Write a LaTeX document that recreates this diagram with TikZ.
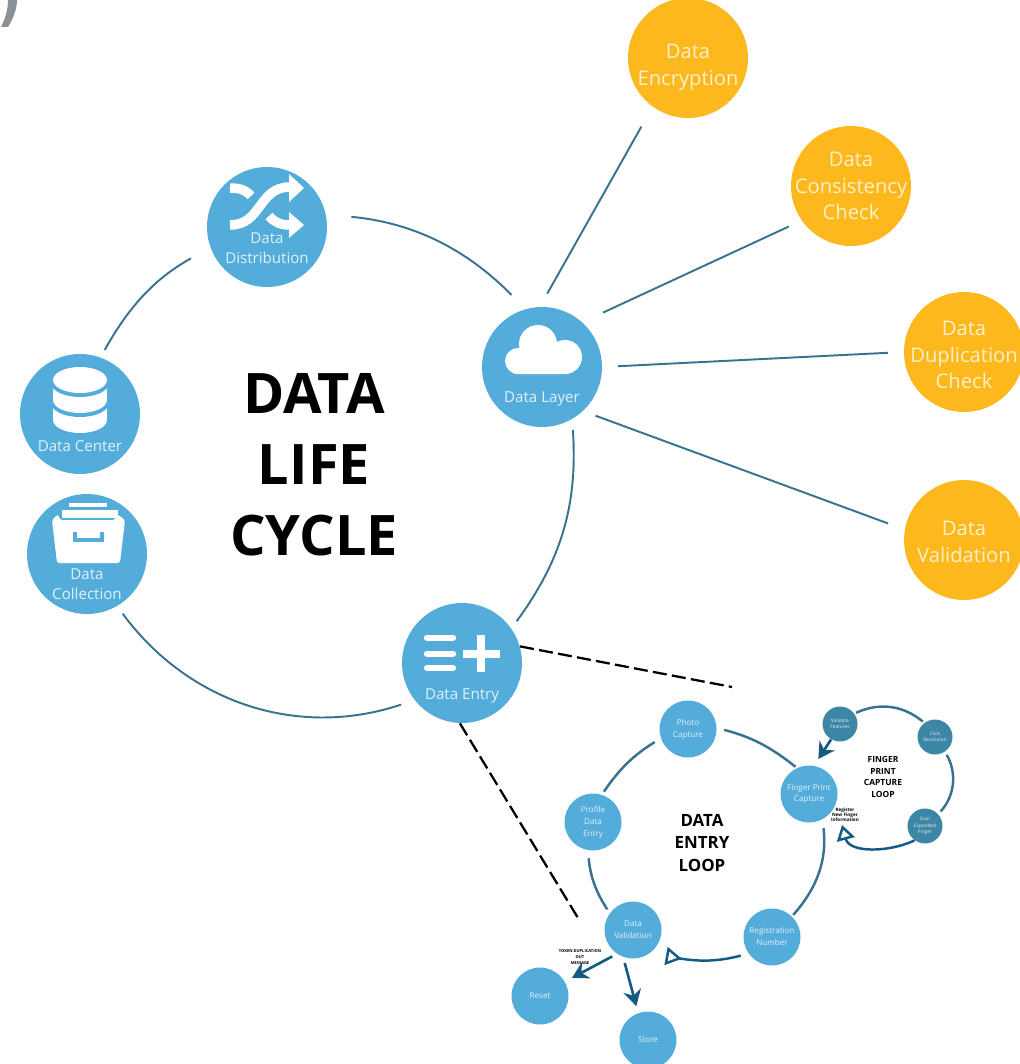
\documentclass[tikz,border=0pt]{standalone}
\usepackage{fontspec}
\setmainfont{Open Sans}
\usetikzlibrary{
    positioning,
    arrows.meta,
    calc
}
\definecolor{nodeblue}{RGB}{84,172,219}
\definecolor{nodeyellow}{RGB}{253,184,30}
\definecolor{nodeteal}{RGB}{62,134,165}
\definecolor{linkteal}{RGB}{55,115,145}
\definecolor{arrowblue}{RGB}{20,90,130}
\definecolor{softwhite}{RGB}{225,241,250}
\definecolor{softcream}{RGB}{255,240,200}
\definecolor{markgray}{RGB}{140,145,150}

\begin{document}
\begin{tikzpicture}[
    x=0.02cm, y=0.02cm,
    bigblue/.style={circle, fill=nodeblue, minimum size=2.4cm, inner sep=0pt},
    bigyellow/.style={circle, fill=nodeyellow, minimum size=2.4cm, inner sep=0pt},
    checklabel/.style={text=softcream, align=center, inner sep=0pt, font=\fontsize{11.5}{15.2}\selectfont},
    smallblue/.style={circle, fill=nodeblue, minimum size=1.14cm, inner sep=0pt, text=softwhite,
        align=center, font=\fontsize{4.6}{6.8}\selectfont},
    smallteal/.style={circle, fill=nodeteal, minimum size=0.7cm, inner sep=0pt, text=softwhite,
        align=center, font=\fontsize{2.7}{3.6}\selectfont},
    iconlabel/.style={text=softwhite, align=center, inner sep=0pt, font=\fontsize{8.6}{11.3}\selectfont},
    looptitle/.style={align=center, inner sep=0pt, font=\bfseries\fontsize{9.6}{12.8}\selectfont},
    tinylabel/.style={align=center, inner sep=0pt, font=\bfseries\fontsize{2.3}{3.3}\selectfont},
    biglink/.style={linkteal, line width=1.1pt},
    looplink/.style={linkteal, line width=1.4pt},
    dashlink/.style={black, line width=1.3pt, dash pattern=on 8pt off 3pt},
    solidarrow/.style={arrowblue, line width=1.5pt, -{Stealth[length=0.32cm,width=0.36cm]}},
    openarrow/.style={arrowblue, line width=1.4pt, -{Triangle[open,length=0.3cm,width=0.36cm]}},
    iconfill/.style={fill=white, draw=none}
]
\useasboundingbox (0,0) rectangle (1020,-1064);

% Stray mark in the corner
\fill[markgray] (8,0) .. controls (8,-10) and (5,-19) .. (1,-27) -- (8,-27) .. controls (13,-19) and (17,-9) .. (17,0) -- cycle;

% Main cycle nodes
\node[bigblue] (dist) at (267,-227) {};
\node[bigblue] (center) at (80,-414) {};
\node[bigblue] (collect) at (87,-554) {};
\node[bigblue] (layer) at (542,-367) {};
\node[bigblue] (entry) at (462,-663) {};

% Outer checks
\node[bigyellow] (encrypt) at (688,-58) {};
\node[bigyellow] (consist) at (851,-186) {};
\node[bigyellow] (duplic) at (964,-352) {};
\node[bigyellow] (valid) at (964,-540) {};
\node[checklabel] (encryptlabel) at (688,-67) {Data\\Encryption};
\node[checklabel] (consistlabel) at (851,-186) {Data\\Consistency\\Check};
\node[checklabel] (dupliclabel) at (964,-355) {Data\\Duplication\\Check};
\node[checklabel] (validlabel) at (964,-542) {Data\\Validation};

% Title
\node[align=center, inner sep=0pt, font=\bfseries\fontsize{31.8}{40.5}\selectfont] (title) at (314,-465) {DATA\\LIFE\\CYCLE};

% Cycle arcs
\draw[biglink, shorten <=4.8pt, shorten >=12.6pt] (center.70) to[bend left=16] (dist.200);
\draw[biglink, shorten <=14.5pt, shorten >=11.3pt] (dist.12) to[bend left=20] (layer.106);
\draw[biglink, shorten <=6pt, shorten >=5pt] (layer.-60) to[bend left=20] (entry.35);
\draw[biglink, shorten <=5.3pt, shorten >=8pt] (collect.-60) to[bend right=36] (entry.218);

% Links to the checks
\draw[biglink, shorten <=8.5pt, shorten >=13pt] (layer.92) -- (encrypt.234);
\draw[biglink, shorten <=13pt, shorten >=8pt] (layer.48) -- (consist.215);
\draw[biglink, shorten <=9pt, shorten >=9pt] (layer.0) -- (duplic.180);
\draw[biglink, shorten <=7.5pt, shorten >=10pt] (layer.-47) -- (valid.170);

% Shuffle icon
\draw[white, line width=5.4pt] (230,-225) .. controls (262,-225) and (258,-187) .. (290,-187);
\fill[white] (289,-174) -- (304,-188) -- (289,-202) -- cycle;
\draw[white, line width=5.4pt] (230,-188) .. controls (240,-188) and (246,-190) .. (251,-196);
\draw[white, line width=5.4pt] (269,-216) .. controls (274,-222) and (280,-225) .. (290,-225);
\fill[white] (289,-212) -- (304,-225) -- (289,-238) -- cycle;
\node[iconlabel] (distlabel) at (267,-248) {Data\\Distribution};

% Database icon
\fill[white] (80,-420) ellipse [x radius=27, y radius=13];
\fill[white] (53,-405) rectangle (107,-420);
\fill[nodeblue] (80,-403) ellipse [x radius=29, y radius=14];
\fill[white] (80,-400) ellipse [x radius=27, y radius=13];
\fill[white] (53,-385) rectangle (107,-400);
\fill[nodeblue] (80,-383) ellipse [x radius=29, y radius=14];
\fill[white] (80,-380) ellipse [x radius=27, y radius=13];
\node[iconlabel] (centerlabel) at (80,-446) {Data Center};

% Drawer icon
\fill[iconfill, rounded corners=1.5pt] (52,-520) -- (58,-514) -- (60,-520) -- (115,-520) -- (117,-514) -- (125,-520) -- (120,-563) -- (57,-563) -- cycle;
\fill[white] (62,-510) rectangle (118,-518);
\fill[white] (69,-503) rectangle (107,-507);
\draw[nodeblue, line width=1.9pt] (75,-532) -- (75,-540) -- (102,-540) -- (102,-532);
\node[iconlabel] (collectlabel) at (87,-584) {Data\\Collection};

% Cloud icon
\fill[white] (538,-344) circle (19);
\fill[white] (518,-361) circle (13);
\fill[white] (565,-357) circle (17);
\fill[white, rounded corners=2pt] (512,-352) rectangle (570,-374);
\node[iconlabel] (layerlabel) at (542,-399) {Data Layer};

% Entry icon
\foreach \bary in {638,654,668}
    \draw[white, line width=3.6pt, line cap=round] (427,-\bary) -- (453,-\bary);
\draw[white, line width=4.2pt] (463,-654) -- (500,-654);
\draw[white, line width=4.2pt] (481,-635) -- (481,-672);
\node[iconlabel] (entrylabel) at (462,-696) {Data Entry};

% Zoom lines
\coordinate (dashright) at (732,-687);
\coordinate (dashleft) at (578,-918);
\draw[dashlink] (entry.16) -- (dashright);
\draw[dashlink] (entry.-92) -- (dashleft);

% Data entry loop
\node[smallblue] (photo) at (688,-729) {Photo\\Capture};
\node[smallblue] (profile) at (593,-822) {Profile\\Data\\Entry};
\node[smallblue] (finger) at (809,-794) {Finger Print\\Capture};
\node[smallblue] (regist) at (772,-937) {Registration\\Number};
\node[smallblue] (dataval) at (633,-930) {Data\\Validation};
\node[smallblue] (reset) at (540,-996) {Reset};
\node[smallblue] (store) at (648,-1040) {Store};
\node[looptitle] (entrytitle) at (702,-843) {DATA\\ENTRY\\LOOP};
\coordinate (valtip) at (666,-956);

\draw[looplink, shorten <=2pt, shorten >=4pt] (profile.72) to[bend left=12] (photo.199);
\draw[looplink, shorten <=4.3pt, shorten >=1pt] (photo.2) to[bend left=12] (finger.115);
\draw[looplink, shorten <=1pt, shorten >=5pt] (regist.46) to[bend right=24] (finger.-62);
\draw[looplink, shorten <=4.5pt, shorten >=2.5pt] (profile.-100) to[bend right=14] (dataval.144);
\draw[arrowblue, line width=1.4pt, -{Triangle[open,reversed,length=0.32cm,width=0.36cm]}, shorten <=4.5pt] (regist.215) to[out=195, in=-10] (valtip);
\draw[solidarrow, shorten <=3pt, shorten >=4.5pt] (dataval.236) -- (reset.30);
\draw[solidarrow, shorten <=3.5pt, shorten >=4pt] (dataval.250) -- (store.110);
\node[tinylabel] (tokenlabel) at (580,-957) {TOKEN DUPLICATION\\OUT\\MESSAGE};

% Finger print loop
\node[smallteal] (vehicle) at (840,-724) {Validate\\Features};
\node[smallteal] (click) at (935,-737) {Click\\Resolution};
\node[smallteal] (scan) at (925,-826) {Scan\\Expanded\\Finger};
\node[looptitle, font=\bfseries\fontsize{4.8}{6.7}\selectfont] (fingertitle) at (883,-777) {FINGER\\PRINT\\CAPTURE\\LOOP};
\coordinate (fingertip) at (842,-825);

\draw[looplink, shorten <=1pt, shorten >=1pt] (vehicle.36) to[bend left=32] (click.127);
\draw[looplink, shorten <=2pt, shorten >=2pt] (click.-56) to[bend left=36] (scan.42);
\draw[openarrow] (scan.234) to[out=205, in=-75] (fingertip);
\draw[solidarrow, shorten >=4.5pt] (vehicle.240) -- (finger.80);
\node[tinylabel, font=\bfseries\fontsize{2.6}{3}\selectfont] (registerlabel) at (845,-815) {Register\\New Finger\\Information};

\end{tikzpicture}
\end{document}
